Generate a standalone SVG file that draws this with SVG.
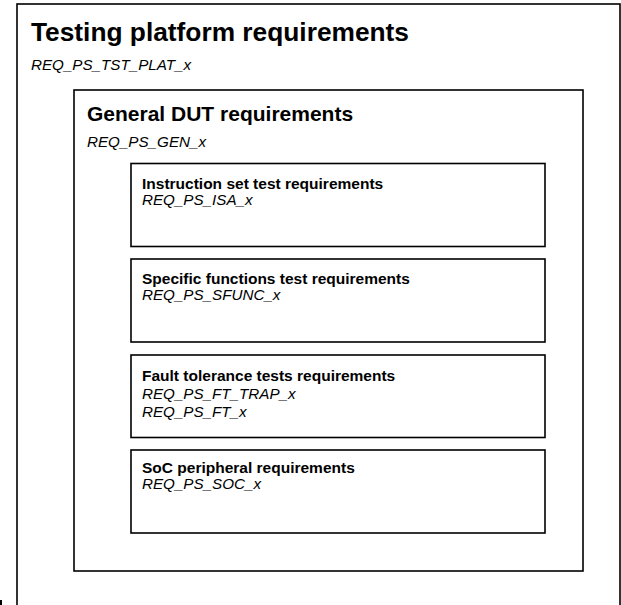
<svg xmlns="http://www.w3.org/2000/svg" width="621" height="605" viewBox="0 0 621 605">
  <style>
    .box { fill: #ffffff; stroke: #000000; stroke-width: 1.6; }
    .h1 { font-family: "Liberation Sans", Arial, sans-serif; font-weight: bold; font-size: 26.3px; fill: #000; }
    .h2 { font-family: "Liberation Sans", Arial, sans-serif; font-weight: bold; font-size: 21px; fill: #000; }
    .h3 { font-family: "Liberation Sans", Arial, sans-serif; font-weight: bold; font-size: 15.5px; fill: #000; }
    .id { font-family: "Liberation Sans", Arial, sans-serif; font-style: italic; font-size: 15.2px; fill: #000; }
  </style>
  <rect width="621" height="605" fill="#ffffff"/>

  <!-- outermost container, open at the bottom edge -->
  <g id="testing-platform">
    <rect class="box" x="17" y="4" width="603" height="620"/>
    <text class="h1" x="31" y="41">Testing platform requirements</text>
    <text class="id" x="31" y="70">REQ_PS_TST_PLAT_x</text>
  </g>

  <g id="general-dut">
    <rect class="box" x="74" y="90" width="509" height="481"/>
    <text class="h2" x="87" y="121">General DUT requirements</text>
    <text class="id" x="87" y="147">REQ_PS_GEN_x</text>
  </g>

  <g id="instruction-set">
    <rect class="box" x="131" y="163.5" width="414" height="83"/>
    <text class="h3" x="142" y="188.5">Instruction set test requirements</text>
    <text class="id" x="142" y="204.5">REQ_PS_ISA_x</text>
  </g>

  <g id="specific-functions">
    <rect class="box" x="131" y="259" width="414" height="83"/>
    <text class="h3" x="142" y="284">Specific functions test requirements</text>
    <text class="id" x="142" y="300">REQ_PS_SFUNC_x</text>
  </g>

  <g id="fault-tolerance">
    <rect class="box" x="131" y="355" width="414" height="82.5"/>
    <text class="h3" x="142" y="380.5">Fault tolerance tests requirements</text>
    <text class="id" x="142" y="398.5">REQ_PS_FT_TRAP_x</text>
    <text class="id" x="142" y="416.5">REQ_PS_FT_x</text>
  </g>

  <g id="soc-peripheral">
    <rect class="box" x="131" y="450" width="414" height="83"/>
    <text class="h3" x="142" y="473">SoC peripheral requirements</text>
    <text class="id" x="142" y="489">REQ_PS_SOC_x</text>
  </g>

  <g id="connectors"></g>

  <!-- small edge tick at lower left -->
  <rect x="0" y="600" width="2" height="5" fill="#000"/>
</svg>
